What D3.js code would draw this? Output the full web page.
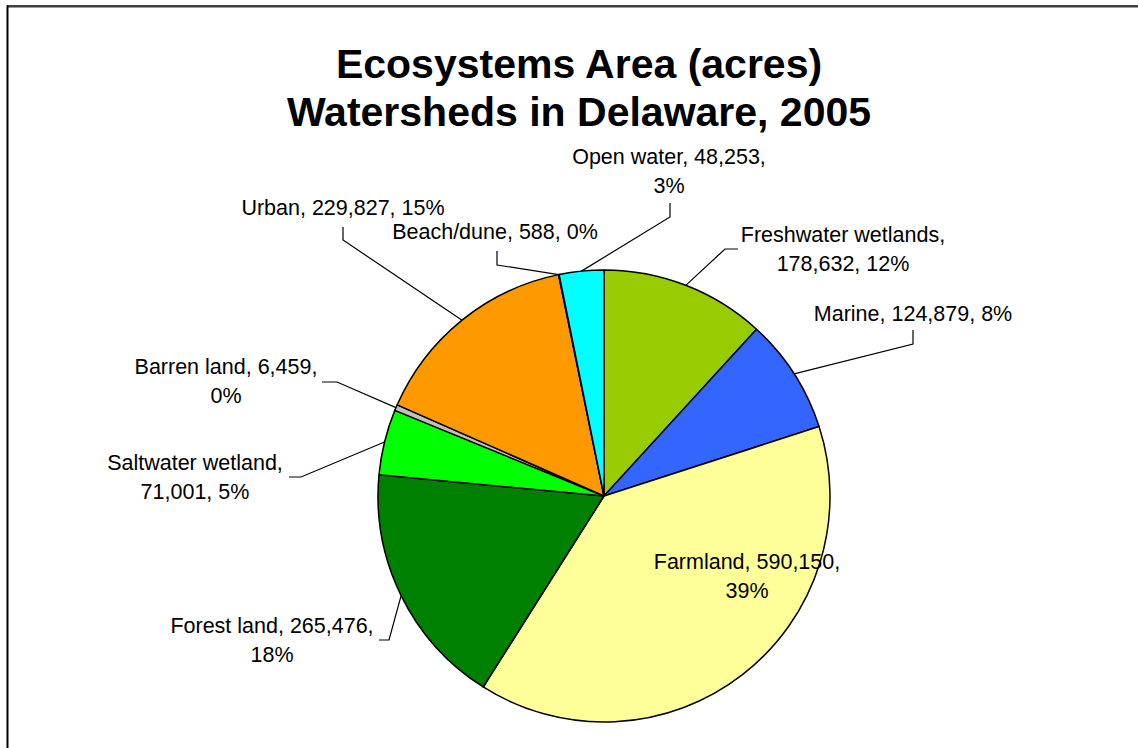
<!DOCTYPE html>
<html>
<head>
<meta charset="utf-8">
<script src="https://cdn.jsdelivr.net/npm/d3@7"></script>
<style>
  html, body { margin: 0; padding: 0; background: #fff; }
  svg { display: block; }
</style>
</head>
<body>
<svg id="chart" width="1138" height="748"></svg>
<script>
// Ecosystem categories, clockwise from 12 o'clock
const categories = ["Freshwater wetlands", "Marine", "Farmland", "Forest land",
  "Saltwater wetland", "Barren land", "Urban", "Beach/dune", "Open water"];
const acres = [178632, 124879, 590150, 265476, 71001, 6459, 229827, 588, 48253];
const sliceColors = ["#99CC00", "#3366FF", "#FFFF99", "#008000",
  "#00FF00", "#C0C0C0", "#FF9900", "#CCCCFF", "#00FFFF"];
const titleLines = ["Ecosystems Area (acres)", "Watersheds in Delaware, 2005"];

// Where each label line breaks: after the name, before the percent, or not at all
const labelBreaks = ["name", "none", "pct", "pct", "name", "pct", "none", "none", "pct"];

// Label placement: text centre x, first baseline y, and leader-line elbow/end points
const labelLayout = {
  "Freshwater wetlands": { x: 843, y: 242, elbow: [725, 249], end: [738, 249] },
  "Marine":              { x: 913, y: 321, elbow: [913, 344], end: [913, 330] },
  "Farmland":            { x: 747, y: 569 },
  "Forest land":         { x: 272, y: 633, elbow: [389, 640], end: [379, 640] },
  "Saltwater wetland":   { x: 195, y: 470, elbow: [301, 477], end: [289, 477] },
  "Barren land":         { x: 226, y: 374, elbow: [337, 382], end: [322, 382] },
  "Urban":               { x: 343, y: 215, elbow: [343, 240], end: [343, 227] },
  "Beach/dune":          { x: 495, y: 239, elbow: [497, 265], end: [497, 251] },
  "Open water":          { x: 669, y: 164, elbow: [670, 217], end: [670, 203] }
};

const W = 1138, H = 748;
const cx = 604, cy = 496, radius = 226;
const lineGap = 29;

const svg = d3.select("#chart");

// Chart frame: only the top and left edges fall inside the view
svg.append("line").attr("x1", 7).attr("x2", W).attr("y1", 6).attr("y2", 6)
  .attr("stroke", "#000").attr("stroke-width", 1.5);
svg.append("line").attr("x1", 8).attr("x2", W).attr("y1", 7.5).attr("y2", 7.5)
  .attr("stroke", "#9a9a9a").attr("stroke-width", 1);
svg.append("line").attr("x1", 7.5).attr("x2", 7.5).attr("y1", 5.5).attr("y2", H)
  .attr("stroke", "#000").attr("stroke-width", 2);

// Title
svg.append("text")
  .attr("x", 579).attr("y", 78)
  .attr("text-anchor", "middle")
  .style("font-family", "'Liberation Sans', Arial, sans-serif")
  .style("font-weight", "bold")
  .style("font-size", "41px")
  .selectAll("tspan").data(titleLines).join("tspan")
  .attr("x", 579).attr("dy", (d, i) => i === 0 ? 0 : 48)
  .text(d => d);

const data = categories.map((c, i) => ({ name: c, value: acres[i], color: sliceColors[i], brk: labelBreaks[i] }));
const total = d3.sum(acres);
const fmt = d3.format(",");

const pie = d3.pie().value(d => d.value).sort(null);
const arcs = pie(data);
const arc = d3.arc().innerRadius(0).outerRadius(radius);
const edgeArc = d3.arc().innerRadius(radius).outerRadius(radius);

const g = svg.append("g").attr("transform", `translate(${cx},${cy})`);

g.selectAll("path.slice").data(arcs).join("path")
  .attr("class", "slice")
  .attr("d", arc)
  .attr("fill", d => d.data.color)
  .attr("stroke", "#000")
  .attr("stroke-width", 1.5)
  .attr("stroke-linejoin", "round");

// Leader lines from slice edge to the label
arcs.forEach(a => {
  const L = labelLayout[a.data.name];
  if (!L.elbow) return;
  const [ex, ey] = edgeArc.centroid(a);
  svg.append("polyline")
    .attr("points", [[cx + ex, cy + ey], L.elbow, L.end].map(p => p.join(",")).join(" "))
    .attr("fill", "none")
    .attr("stroke", "#000")
    .attr("stroke-width", 1.2);
});

// Data labels: name, acres, percent of total
arcs.forEach(a => {
  const d = a.data;
  const L = labelLayout[d.name];
  const pct = Math.round(d.value / total * 100) + "%";
  const val = fmt(d.value);
  let lines;
  if (d.brk === "name") lines = [d.name + ",", val + ", " + pct];
  else if (d.brk === "pct") lines = [d.name + ", " + val + ",", pct];
  else lines = [d.name + ", " + val + ", " + pct];
  svg.append("text")
    .attr("text-anchor", "middle")
    .style("font-family", "'Liberation Sans', Arial, sans-serif")
    .style("font-size", "21.5px")
    .attr("fill", "#000")
    .selectAll("tspan").data(lines).join("tspan")
    .attr("x", L.x)
    .attr("y", (t, i) => L.y + i * lineGap)
    .text(t => t);
});
</script>
</body>
</html>
